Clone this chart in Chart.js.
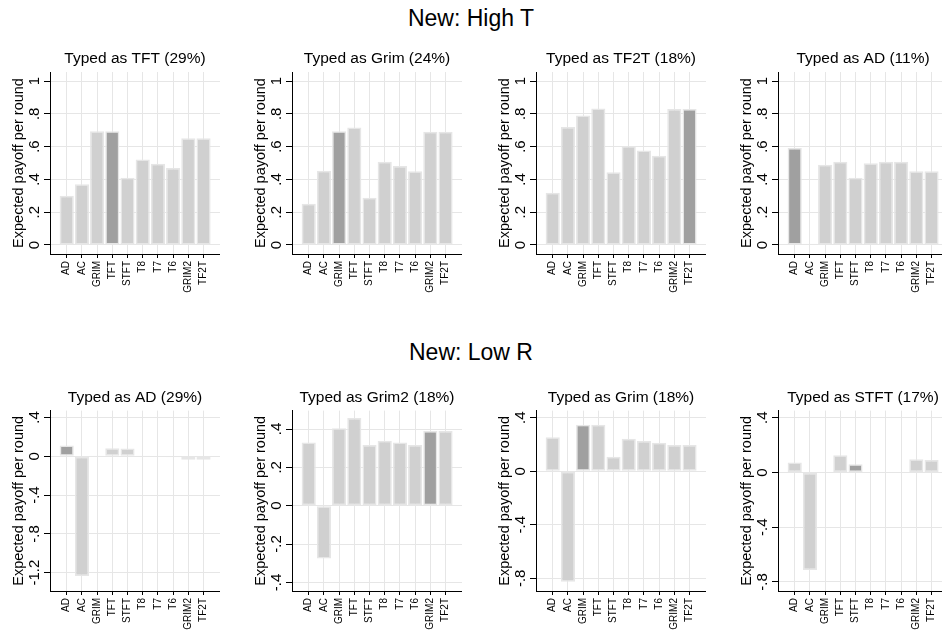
<!DOCTYPE html>
<html>
<head>
<meta charset="utf-8">
<script src="https://cdn.jsdelivr.net/npm/chart.js@4/dist/chart.umd.min.js"></script>
<style>
    body { margin: 0; background: #fff; width: 942px; height: 631px; overflow: hidden; position: relative;
           font-family: "Liberation Sans", Arial, sans-serif; }
    .main { position: absolute; left: 0; width: 942px; text-align: center; font-size: 23px; color: #000; }
    .panel { position: absolute; }
</style>
</head>
<body>
<div class="main" style="top:5px">New: High T</div>
<div class="main" style="top:339px">New: Low R</div>
<canvas class="panel" id="p1"></canvas>
<canvas class="panel" id="p2"></canvas>
<canvas class="panel" id="p3"></canvas>
<canvas class="panel" id="p4"></canvas>
<canvas class="panel" id="p5"></canvas>
<canvas class="panel" id="p6"></canvas>
<canvas class="panel" id="p7"></canvas>
<canvas class="panel" id="p8"></canvas>
<script>
// strategies on the x axis
const strategies = ['AD', 'AC', 'GRIM', 'TFT', 'STFT', 'T8', 'T7', 'T6', 'GRIM2', 'TF2T'];

// New: High T
const highT_TFT  = [0.30, 0.371, 0.694, 0.694, 0.41, 0.521, 0.495, 0.469, 0.651, 0.651];
const highT_Grim = [0.251, 0.452, 0.694, 0.716, 0.288, 0.507, 0.481, 0.45, 0.69, 0.69];
const highT_TF2T = [0.318, 0.72, 0.789, 0.832, 0.444, 0.603, 0.576, 0.544, 0.83, 0.83];
const highT_AD   = [0.592, 0.008, 0.489, 0.507, 0.41, 0.499, 0.507, 0.507, 0.45, 0.45];

// New: Low R
const lowR_AD    = [0.11, -1.235, 0.003, 0.082, 0.08, 0.002, -0.004, -0.01, -0.035, -0.035];
const lowR_Grim2 = [0.329, -0.275, 0.404, 0.457, 0.316, 0.339, 0.329, 0.316, 0.39, 0.39];
const lowR_Grim  = [0.253, -0.826, 0.348, 0.348, 0.108, 0.243, 0.226, 0.213, 0.196, 0.196];
const lowR_STFT  = [0.072, -0.712, 0, 0.126, 0.06, 0.003, 0.002, 0.002, 0.096, 0.091];

// y tick labels
const ticksHigh = [0, 0.2, 0.4, 0.6, 0.8, 1];
const ticksLowAD = [-1.2, -0.8, -0.4, 0, 0.4];
const ticksLowGrim2 = [-0.4, -0.2, 0, 0.2, 0.4];
const ticksLowOther = [-0.8, -0.4, 0, 0.4];

const FONT = '"Liberation Sans", Arial, sans-serif';
Chart.defaults.font.family = FONT;
Chart.defaults.color = '#000';

const panels = [
    { id: 'p1', title: 'Typed as TFT (29%)',   values: highT_TFT,  own: 3, ticks: ticksHigh, min: -0.055, max: 1.055, left: 0,   top: 44,  h: 250, tp: 5.4 },
    { id: 'p2', title: 'Typed as Grim (24%)',  values: highT_Grim, own: 2, ticks: ticksHigh, min: -0.055, max: 1.055, left: 242, top: 44,  h: 250, tp: 5.4 },
    { id: 'p3', title: 'Typed as TF2T (18%)',  values: highT_TF2T, own: 9, ticks: ticksHigh, min: -0.055, max: 1.055, left: 486, top: 44,  h: 250, tp: 5.4 },
    { id: 'p4', title: 'Typed as AD (11%)',    values: highT_AD,   own: 0, ticks: ticksHigh, min: -0.055, max: 1.055, left: 728, top: 44,  h: 250, tp: 5.4 },
    { id: 'p5', title: 'Typed as AD (29%)',    values: lowR_AD,    own: 0, ticks: ticksLowAD, min: -1.389, max: 0.471, left: 0,   top: 382, h: 249, tp: 6 },
    { id: 'p6', title: 'Typed as Grim2 (18%)', values: lowR_Grim2, own: 8, ticks: ticksLowGrim2, min: -0.445, max: 0.496, left: 242, top: 382, h: 249, tp: 6 },
    { id: 'p7', title: 'Typed as Grim (18%)',  values: lowR_Grim,  own: 2, ticks: ticksLowOther, min: -0.895, max: 0.453, left: 486, top: 382, h: 249, tp: 6 },
    { id: 'p8', title: 'Typed as STFT (17%)',  values: lowR_STFT,  own: 4, ticks: ticksLowOther, min: -0.866, max: 0.452, left: 728, top: 382, h: 249, tp: 6 }
];

function fmt(v) {
    const s = (Math.round(v * 10) / 10).toString();
    return s.replace(/^(-?)0\./, '$1.');
}

const measure = document.createElement('canvas').getContext('2d');
measure.font = '15px ' + FONT;

panels.forEach(p => {
    const canvas = document.getElementById(p.id);
    canvas.width = 220;
    canvas.height = p.h;
    canvas.style.left = p.left + 'px';
    canvas.style.top = p.top + 'px';

    // centre rotated y labels about 15px left of the axis
    const widest = Math.max(...p.ticks.map(v => measure.measureText(fmt(v)).width));
    const yPad = 9 - widest / 2;

    new Chart(canvas.getContext('2d'), {
        type: 'bar',
        data: {
            datasets: [{
                data: p.values.map((v, i) => ({ x: i, y: v })),
                backgroundColor: p.values.map((v, i) => i === p.own ? '#a0a0a0' : '#d0d0d0'),
                borderColor: '#e6e6e6',
                borderWidth: 1.5,
                borderSkipped: false,
                barPercentage: 0.93,
                categoryPercentage: 1
            }]
        },
        options: {
            responsive: false,
            animation: false,
            layout: { padding: 0 },
            plugins: {
                legend: { display: false },
                tooltip: { enabled: false },
                title: {
                    display: true,
                    text: p.title,
                    fullSize: false,
                    color: '#000',
                    font: { size: 15.5, weight: 'normal' },
                    padding: { top: p.tp, bottom: 4 }
                }
            },
            scales: {
                x: {
                    type: 'linear',
                    offset: false,
                    min: -1.1,
                    max: 10.084,
                    afterBuildTicks: s => { s.ticks = strategies.map((_, i) => ({ value: i })); },
                    afterFit: s => { s.height = 40; },
                    grid: { color: '#e6e6e6', tickColor: '#000', tickLength: 4, offset: false },
                    border: { color: '#000', width: 1 },
                    ticks: {
                        autoSkip: false,
                        minRotation: 90,
                        maxRotation: 90,
                        padding: 3,
                        color: '#000',
                        font: { size: 10 },
                        callback: v => strategies[v]
                    }
                },
                y: {
                    min: p.min,
                    max: p.max,
                    afterBuildTicks: s => { s.ticks = p.ticks.map(v => ({ value: v })); },
                    afterFit: s => { s.width = 50; },
                    grid: { color: '#e6e6e6', tickColor: '#000', tickLength: 6 },
                    border: { color: '#000', width: 1 },
                    ticks: {
                        minRotation: 90,
                        maxRotation: 90,
                        crossAlign: 'center',
                        padding: yPad,
                        color: '#000',
                        font: { size: 15 },
                        callback: v => fmt(v)
                    },
                    title: {
                        display: true,
                        text: 'Expected payoff per round',
                        color: '#000',
                        font: { size: 14.5 },
                        padding: { top: 9.8, bottom: 0 }
                    }
                }
            }
        }
    });
});
</script>
</body>
</html>
